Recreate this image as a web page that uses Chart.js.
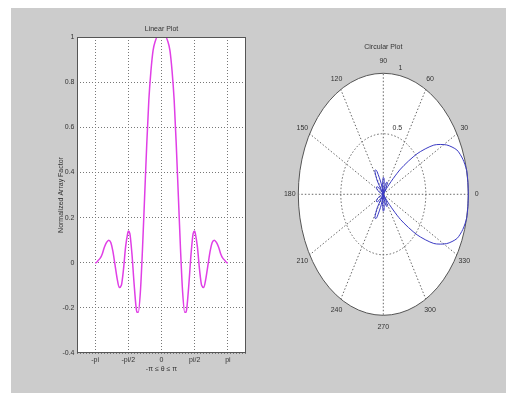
<!DOCTYPE html>
<html>
<head>
<meta charset="utf-8">
<title>Linear Plot / Circular Plot</title>
<script src="https://cdn.jsdelivr.net/npm/chart.js@4.4.0/dist/chart.umd.min.js"></script>
<style>
  html, body { margin: 0; padding: 0; background: #fff; }
  #page { position: relative; width: 506px; height: 393px; overflow: hidden; }
  #figure { position: absolute; left: 11px; top: 8px; width: 495px; height: 385px; background: #cccccc; }
  .plot { position: absolute; top: 0; width: 253px; height: 393px; }
  #linearWrap { left: 0; }
  #circularWrap { left: 253px; }
</style>
</head>
<body>
<div id="page">
  <div id="figure"></div>
  <div class="plot" id="linearWrap"><canvas id="linearChart" width="253" height="393"></canvas></div>
  <div class="plot" id="circularWrap"><canvas id="circularChart" width="253" height="393"></canvas></div>
</div>
<script>
// angle (rad) and normalized array factor
const theta = [
  -3.14, -3.1, -3.0, -2.9, -2.8, -2.7, -2.6, -2.5, -2.4, -2.3,
  -2.2, -2.1, -2.0, -1.9, -1.8, -1.7, -1.6, -1.57, -1.5, -1.4,
  -1.3, -1.2, -1.16, -1.1, -1.0, -0.9, -0.8, -0.7, -0.6, -0.5,
  -0.4, -0.3, -0.2, -0.1, 0,
  0.1, 0.2, 0.3, 0.4, 0.5, 0.6, 0.7, 0.8, 0.9, 1.0,
  1.1, 1.16, 1.2, 1.3, 1.4, 1.5, 1.57, 1.6, 1.7, 1.8,
  1.9, 2.0, 2.1, 2.2, 2.3, 2.4, 2.5, 2.6, 2.7, 2.8,
  2.9, 3.0, 3.1, 3.14
];
const arrayFactor = [
  0.00, 0.00, 0.01, 0.02, 0.04, 0.07, 0.09, 0.10, 0.09, 0.05,
  -0.01, -0.07, -0.11, -0.10, -0.03, 0.07, 0.13, 0.14, 0.13, 0.04,
  -0.09, -0.20, -0.22, -0.22, -0.13, 0.06, 0.29, 0.52, 0.72, 0.85,
  0.94, 0.98, 1.00, 1.00, 1.00,
  1.00, 1.00, 0.98, 0.94, 0.85, 0.72, 0.52, 0.29, 0.06, -0.13,
  -0.22, -0.22, -0.20, -0.09, 0.04, 0.13, 0.14, 0.13, 0.07, -0.03,
  -0.10, -0.11, -0.07, -0.01, 0.05, 0.09, 0.10, 0.09, 0.07, 0.04,
  0.02, 0.01, 0.00, 0.00
];
const xTickValues = [-Math.PI, -Math.PI / 2, 0, Math.PI / 2, Math.PI];
const xTickLabels = ['-pi', '-pi/2', '0', 'pi/2', 'pi'];
const polarAngles = [0, 30, 60, 90, 120, 150, 180, 210, 240, 270, 300, 330];
const polarRadii = [0.5, 1];

const narrow = "'Liberation Sans Narrow', 'Liberation Sans', sans-serif";
const textColor = '#333';
const tickFont = { family: narrow, size: 7 };

const plotBox = {
  id: 'plotBox',
  beforeDraw(chart) {
    const { ctx, chartArea: a } = chart;
    ctx.save();
    ctx.fillStyle = '#fff';
    ctx.fillRect(a.left, a.top, a.right - a.left, a.bottom - a.top);
    ctx.restore();
  },
  afterDraw(chart) {
    const { ctx, chartArea: a } = chart;
    ctx.save();
    ctx.strokeStyle = '#555';
    ctx.lineWidth = 1;
    ctx.strokeRect(a.left + 0.5, a.top + 0.5, a.right - a.left - 1, a.bottom - a.top - 1);
    ctx.restore();
  }
};

new Chart(document.getElementById('linearChart'), {
  type: 'line',
  data: {
    datasets: [{
      data: theta.map((t, i) => ({ x: t, y: arrayFactor[i] })),
      borderColor: '#e03fe6',
      borderWidth: 1.5,
      pointRadius: 0,
      cubicInterpolationMode: 'monotone',
      fill: false
    }]
  },
  options: {
    responsive: false,
    animation: false,
    devicePixelRatio: 1,
    layout: { padding: { left: 0, right: 7, top: 0, bottom: 0 } },
    plugins: {
      legend: { display: false },
      tooltip: { enabled: false },
      title: {
        display: true, text: 'Linear Plot', fullSize: false, color: textColor,
        font: { family: narrow, size: 7, weight: 'normal' },
        padding: { top: 24.5, bottom: 4.1 }
      }
    },
    scales: {
      x: {
        type: 'linear', min: -4, max: 4,
        afterBuildTicks: s => { s.ticks = xTickValues.map(v => ({ value: v })); },
        afterFit: s => { s.height = 40; },
        ticks: { autoSkip: false, maxRotation: 0, padding: 3, color: textColor, font: tickFont,
          callback: (v, i) => xTickLabels[i] },
        grid: { color: '#777', drawTicks: false },
        border: { display: false, dash: [1, 2] },
        title: { display: true, text: '-π ≤ θ ≤ π', color: textColor, font: tickFont,
          padding: { top: 0, bottom: 19.8 } }
      },
      y: {
        min: -0.4, max: 1,
        afterFit: s => { s.width = 77; },
        ticks: { stepSize: 0.2, padding: 2.5, color: textColor, font: tickFont,
          callback: v => String(+v.toFixed(1)) },
        grid: { color: '#777', drawTicks: false },
        border: { display: false, dash: [1, 2] },
        title: { display: true, text: 'Normalized Array Factor', color: textColor,
          font: { family: "'Liberation Sans', sans-serif", size: 7 },
          padding: { top: 56.5, bottom: 0 } }
      }
    }
  },
  plugins: [plotBox]
});

const polarGrid = {
  id: 'polarGrid',
  beforeDatasetsDraw(chart) {
    const { ctx, scales: { x, y } } = chart;
    const cx = x.getPixelForValue(0), cy = y.getPixelForValue(0);
    const rx = x.getPixelForValue(1) - cx, ry = cy - y.getPixelForValue(1);
    const rMax = polarRadii[polarRadii.length - 1];
    ctx.save();
    ctx.fillStyle = '#fff';
    ctx.beginPath();
    ctx.ellipse(cx, cy, rx * rMax, ry * rMax, 0, 0, 2 * Math.PI);
    ctx.fill();

    ctx.strokeStyle = '#666';
    ctx.lineWidth = 1;
    ctx.setLineDash([1.5, 2]);
    polarRadii.filter(r => r < rMax).forEach(r => {
      ctx.beginPath();
      ctx.ellipse(cx, cy, rx * r, ry * r, 0, 0, 2 * Math.PI);
      ctx.stroke();
    });
    polarAngles.forEach(a => {
      const rad = a * Math.PI / 180;
      ctx.beginPath();
      ctx.moveTo(cx, cy);
      ctx.lineTo(cx + rx * rMax * Math.cos(rad), cy - ry * rMax * Math.sin(rad));
      ctx.stroke();
    });
    ctx.setLineDash([]);
    ctx.strokeStyle = '#555';
    ctx.beginPath();
    ctx.ellipse(cx, cy, rx * rMax, ry * rMax, 0, 0, 2 * Math.PI);
    ctx.stroke();

    ctx.fillStyle = textColor;
    ctx.font = "7px " + narrow;
    ctx.textAlign = 'center';
    ctx.textBaseline = 'middle';
    polarAngles.forEach(a => {
      const rad = a * Math.PI / 180;
      ctx.fillText(String(a), cx + 1.1 * rMax * rx * Math.cos(rad), cy - 1.1 * rMax * ry * Math.sin(rad));
    });
    // radius labels along the 82 degree line, as MATLAB does
    const c82 = Math.cos(82 * Math.PI / 180), s82 = Math.sin(82 * Math.PI / 180);
    ctx.textAlign = 'left';
    ctx.textBaseline = 'bottom';
    polarRadii.forEach(r => {
      const rr = r + rMax / 40;
      ctx.fillText(String(r), cx + rr * c82 * rx + 3, cy - rr * s82 * ry);
    });
    ctx.restore();
  }
};

new Chart(document.getElementById('circularChart'), {
  type: 'scatter',
  data: {
    datasets: [{
      data: theta.map((t, i) => ({ x: arrayFactor[i] * Math.cos(t), y: arrayFactor[i] * Math.sin(t) })),
      showLine: true,
      borderColor: '#3b3bc4',
      borderWidth: 1,
      pointRadius: 0,
      tension: 0.25
    }]
  },
  options: {
    responsive: false,
    animation: false,
    devicePixelRatio: 1,
    layout: { padding: { left: 11.3, right: 3.7, top: 0, bottom: 29.3 } },
    plugins: {
      legend: { display: false },
      tooltip: { enabled: false },
      title: {
        display: true, text: 'Circular Plot', fullSize: false, color: textColor,
        font: { family: narrow, size: 7, weight: 'normal' },
        padding: { top: 42.8, bottom: 0.3 }
      }
    },
    scales: {
      x: { display: false, min: -1.4, max: 1.4 },
      y: { display: false, min: -1.4, max: 1.18 }
    }
  },
  plugins: [polarGrid]
});
</script>
</body>
</html>
